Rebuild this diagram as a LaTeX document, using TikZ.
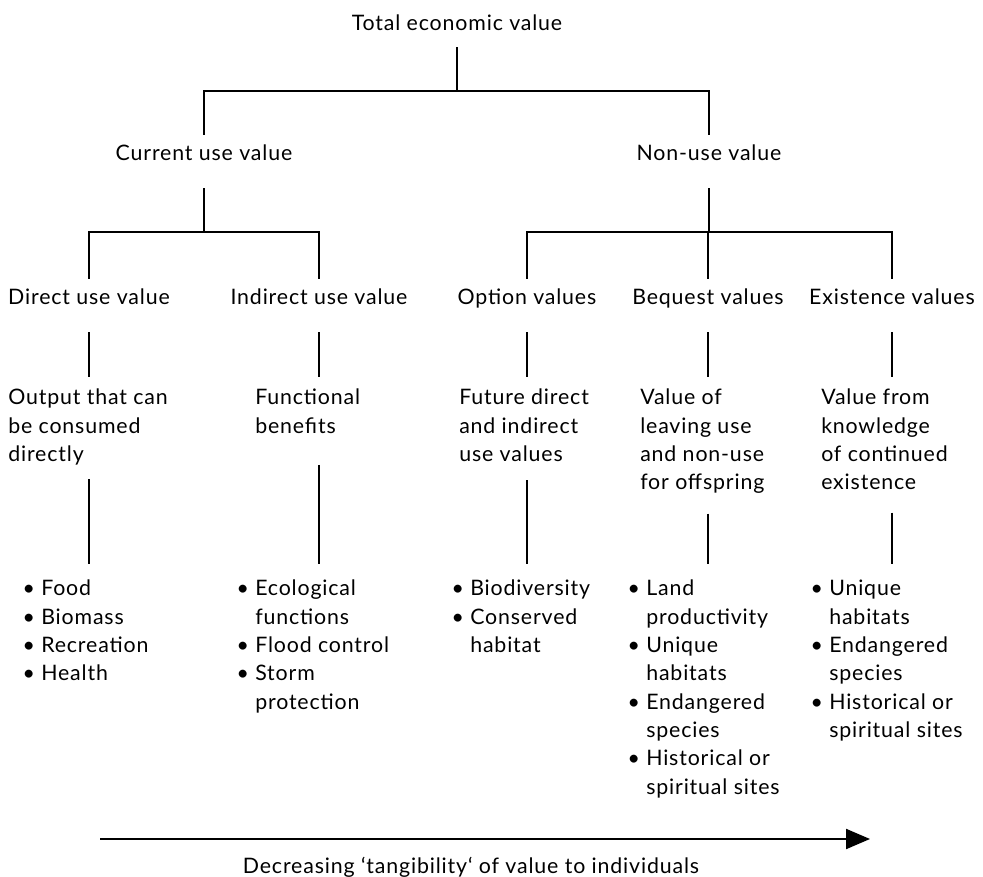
\documentclass[tikz,border=0pt]{standalone}
\usepackage{fontspec}
\setmainfont{Lato}[LetterSpace=4]
\usetikzlibrary{arrows.meta}

\newcommand{\bul}{\makebox[10.5pt][l]{\hspace{-3.5pt}\textbullet}}
\newcommand{\cnt}{\hspace*{10.5pt}}

\begin{document}
\begin{tikzpicture}[
    x=0.75pt, y=-0.75pt,
    font={\fontsize{16}{21.25}\selectfont},
    head/.style={inner sep=0pt, text height=19.3pt, text depth=20.5pt, anchor=base},
    block/.style={align=left, anchor=north west, inner xsep=0pt, inner ysep=8.95pt,
        execute at begin node=\strut, execute at end node=\strut},
    items/.style={block, inner ysep=11.95pt},
    link/.style={line width=1.4pt}
]
\useasboundingbox (0,0) rectangle (983,877);

% top levels
\node[head, text depth=12.2pt] (tot) at (457,30.7) {Total economic value};
\node[head] (cur) at (204,160.7) {Current use value};
\node[head] (non) at (709,160.7) {Non-use value};

% value types
\node[head] (dir) at (89,304.7) {Direct use value};
\node[head] (ind) at (319,304.7) {Indirect use value};
\node[head] (opt) at (527,304.7) {Option values};
\node[head] (beq) at (708,304.7) {Bequest values};
\node[head] (exi) at (892,304.7) {Existence values};

% descriptions
\node[block] (o1) at (8,377) {Output that can\\be consumed\\directly};
\node[block] (o2) at (255,377) {Functional\\benefits};
\node[block] (o3) at (459,377) {Future direct\\and indirect\\use values};
\node[block] (o4) at (640,377) {Value of\\leaving use\\and non-use\\for offspring};
\node[block] (o5) at (821,377) {Value from\\knowledge\\of continued\\existence};

% examples
\node[items] (l1) at (27,564) {\bul Food\\\bul Biomass\\\bul Recreation\\\bul Health};
\node[items] (l2) at (241,564) {\bul Ecological\\\cnt functions\\\bul Flood control\\\bul Storm\\\cnt protection};
\node[items] (l3) at (456,564) {\bul Biodiversity\\\bul Conserved\\\cnt habitat};
\node[items] (l4) at (632,564) {\bul Land\\\cnt productivity\\\bul Unique\\\cnt habitats\\\bul Endangered\\\cnt species\\\bul Historical or\\\cnt spiritual sites};
\node[items] (l5) at (815,564) {\bul Unique\\\cnt habitats\\\bul Endangered\\\cnt species\\\bul Historical or\\\cnt spiritual sites};

% tree lines
\draw[link] (tot.south) -- ++(0,44) -| (cur.north);
\draw[link] (tot.south) -- ++(0,44) -| (non.north);
\draw[link] (cur.south) -- ++(0,44) -| (dir.north);
\draw[link] (cur.south) -- ++(0,44) -| (ind.north);
\draw[link] (non.south) -- ++(0,44) -| (opt.north);
\draw[link] (non.south) -- ++(0,44) -| (beq.north);
\draw[link] (non.south) -- ++(0,44) -| (exi.north);

\draw[link] (dir.south) -- (dir.south |- o1.north);
\draw[link] (ind.south) -- (ind.south |- o2.north);
\draw[link] (opt.south) -- (opt.south |- o3.north);
\draw[link] (beq.south) -- (beq.south |- o4.north);
\draw[link] (exi.south) -- (exi.south |- o5.north);

\draw[link] (o1.south -| dir) ++(0,-3) -- (dir |- l1.north);
\draw[link] (o2.south -| ind) ++(0,11) -- (ind |- l2.north);
\draw[link] (o3.south -| opt) ++(0,-2) -- (opt |- l3.north);
\draw[link] (o4.south -| beq) ++(0,3) -- (beq |- l4.north);
\draw[link] (o5.south -| exi) ++(0,2) -- (exi |- l5.north);

% tangibility arrow
\coordinate (a0) at (100,839);
\coordinate (a1) at (870,839);
\draw[line width=1.6pt, -{Triangle[length=18pt, width=15pt]}] (a0) -- (a1);
\node (dec) at (471,867) {Decreasing ‘tangibility‘ of value to individuals};

\end{tikzpicture}
\end{document}
